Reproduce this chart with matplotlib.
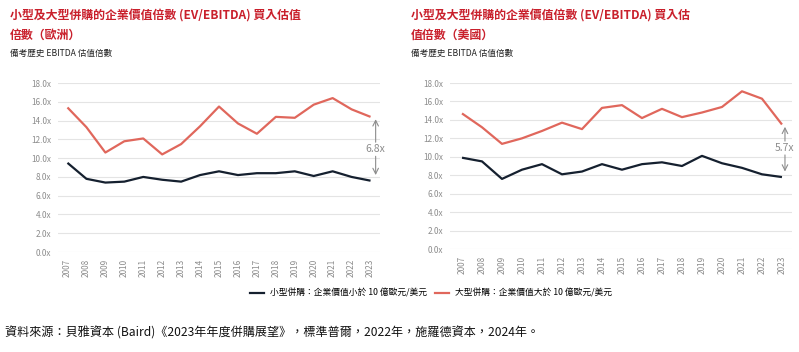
import matplotlib
matplotlib.use("Agg")
import matplotlib.pyplot as plt
from matplotlib.lines import Line2D

plt.rcParams['font.family'] = ['Noto Sans CJK TC', 'DejaVu Sans']

years = list(range(2007, 2024))
eu_large = [15.4, 13.3, 10.6, 11.8, 12.1, 10.4, 11.5, 13.4, 15.5, 13.7, 12.6, 14.4, 14.3, 15.7, 16.4, 15.2, 14.4]
eu_small = [9.5, 7.8, 7.4, 7.5, 8.0, 7.7, 7.5, 8.2, 8.6, 8.2, 8.4, 8.4, 8.6, 8.1, 8.6, 8.0, 7.6]
us_large = [14.7, 13.2, 11.4, 12.0, 12.8, 13.7, 13.0, 15.3, 15.6, 14.2, 15.2, 14.3, 14.8, 15.4, 17.1, 16.3, 13.5]
us_small = [9.9, 9.5, 7.6, 8.6, 9.2, 8.1, 8.4, 9.2, 8.6, 9.2, 9.4, 9.0, 10.1, 9.3, 8.8, 8.1, 7.8]
yticks = [0, 2, 4, 6, 8, 10, 12, 14, 16, 18]

title_eu = "小型及大型併購的企業價值倍數 (EV/EBITDA) 買入估值\n倍數（歐洲）"
title_us = "小型及大型併購的企業價值倍數 (EV/EBITDA) 買入估\n值倍數（美國）"
subtitle = "備考歷史 EBITDA 估值倍數"
legend_small = "小型併購：企業價值小於 10 億歐元/美元"
legend_large = "大型併購：企業價值大於 10 億歐元/美元"
source = "資料來源：貝雅資本 (Baird)《2023年年度併購展望》，標準普爾，2022年，施羅德資本，2024年。"

RED = "#e0675c"
NAVY = "#15202f"
TITLE_RED = "#c9202c"
GRAY = "#8c8c8c"

fig = plt.figure(figsize=(7.99, 3.52), dpi=100)
fig.patch.set_facecolor("white")

ax1 = fig.add_axes([0.0726, 0.284, 0.403, 0.480])
ax2 = fig.add_axes([0.5632, 0.2926, 0.428, 0.4716])

def draw(ax, large, small, xlim, ax_x):
    ax.plot(years, large, color=RED, lw=1.6, solid_capstyle='butt')
    ax.plot(years, small, color=NAVY, lw=1.6, solid_capstyle='butt')
    ax.set_xlim(*xlim)
    ax.set_ylim(0, 18)
    ax.set_yticks(yticks)
    ax.set_yticklabels([f"{v:.1f}x" for v in yticks], fontsize=5.9, color=GRAY)
    ax.set_xticks(years)
    ax.set_xticklabels([str(y) for y in years], rotation=90, fontsize=5.9, color=GRAY)
    ax.tick_params(length=0, pad=5)
    ax.grid(axis='y', color='#e4e4e4', lw=0.8)
    ax.set_axisbelow(True)
    for s in ax.spines.values():
        s.set_visible(False)
    top = large[-1] - 0.25
    bot = small[-1] + 0.6
    mid = 11.0
    gap = large[-1] - small[-1]
    ap = dict(arrowstyle='->', color=GRAY, lw=0.8, shrinkA=0, shrinkB=0)
    ax.annotate('', xy=(ax_x, top), xytext=(ax_x, mid + 0.7), arrowprops=ap, annotation_clip=False)
    ax.annotate('', xy=(ax_x, bot), xytext=(ax_x, mid - 0.8), arrowprops=ap, annotation_clip=False)
    ax.text(ax_x, mid, f"{gap:.1f}x", color=GRAY, fontsize=7.5, ha='center', va='center', clip_on=False)

draw(ax1, eu_large, eu_small, (2006.5, 2023.5), 2023.27)
draw(ax2, us_large, us_small, (2006.4, 2023.5), 2023.15)

fig.text(10/799, 1 - 25/352, title_eu, color=TITLE_RED, fontsize=8.6, fontweight='bold',
         ha='left', va='center', linespacing=1.75)
fig.text(411/799, 1 - 25/352, title_us, color=TITLE_RED, fontsize=8.6, fontweight='bold',
         ha='left', va='center', linespacing=1.75)
fig.text(10/799, 1 - 53/352, subtitle, color='#222222', fontsize=6.2, ha='left', va='center')
fig.text(411/799, 1 - 53/352, subtitle, color='#222222', fontsize=6.2, ha='left', va='center')

handles = [Line2D([0], [0], color=NAVY, lw=1.6), Line2D([0], [0], color=RED, lw=1.6)]
fig.legend(handles, [legend_small, legend_large], loc='center', bbox_to_anchor=(431/799, 1 - 293/352),
           ncol=2, frameon=False, fontsize=6.3, handlelength=1.6, handletextpad=0.6, columnspacing=1.0)

fig.text(5/799, 1 - 333/352, source, color='#111111', fontsize=8.7, ha='left', va='center')

fig.savefig("out.png", dpi=100, facecolor='white')
